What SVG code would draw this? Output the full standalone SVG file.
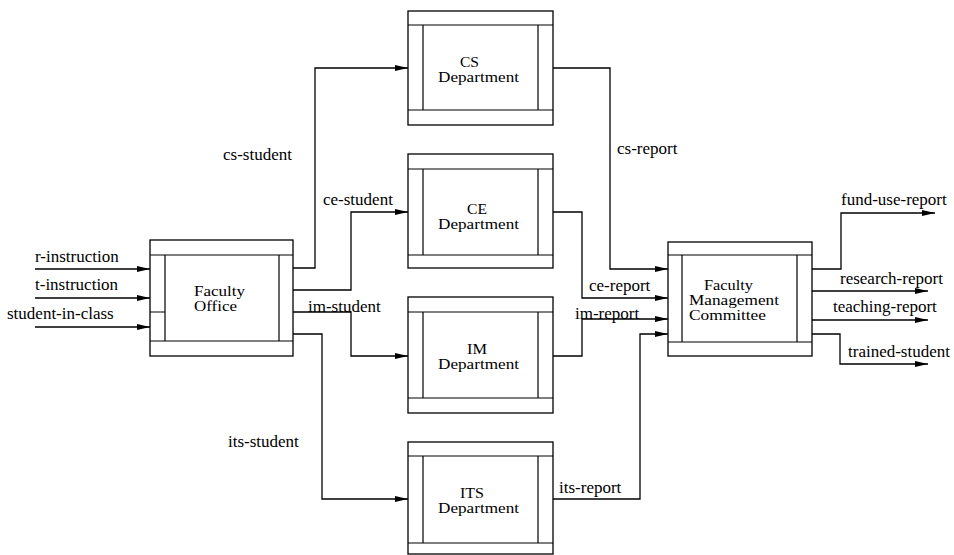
<svg xmlns="http://www.w3.org/2000/svg" width="954" height="555" viewBox="0 0 954 555">
<defs>
<marker id="ah" markerUnits="userSpaceOnUse" markerWidth="14" markerHeight="8" refX="13" refY="3" orient="auto">
<path d="M0,0 L13,3 L0,6 Z" fill="#000"/>
</marker>
<style>
.box{fill:#fff;stroke:#000;stroke-width:1.3}
.ln{fill:none;stroke:#000;stroke-width:1.2}
.c{fill:none;stroke:#000;stroke-width:1.3;marker-end:url(#ah)}
text{font-family:'Liberation Serif','Times New Roman',serif;font-size:17px;fill:#000}
.n{font-size:15px}
</style>
</defs>
<rect width="954" height="555" fill="#fff"/>

<g id="faculty-office">
<rect class="box" x="150" y="240" width="143" height="116"/>
<path class="ln" d="M150,255H293M150,341H293M165,255V341M279,255V341M150,312H165"/>
<text class="n" x="194" y="296" textLength="51" lengthAdjust="spacingAndGlyphs">Faculty</text>
<text class="n" x="194" y="311" textLength="43" lengthAdjust="spacingAndGlyphs">Office</text>
</g>

<g id="cs-department">
<rect class="box" x="408" y="11" width="145" height="114"/>
<path class="ln" d="M408,25H553M408,110H553M423,25V110M538,25V110"/>
<text class="n" x="460" y="67" textLength="19" lengthAdjust="spacingAndGlyphs">CS</text>
<text class="n" x="438" y="82" textLength="81" lengthAdjust="spacingAndGlyphs">Department</text>
</g>

<g id="ce-department">
<rect class="box" x="408" y="154" width="145" height="114"/>
<path class="ln" d="M408,169H553M408,255H553M423,169V255M538,169V255"/>
<text class="n" x="467" y="214" textLength="20" lengthAdjust="spacingAndGlyphs">CE</text>
<text class="n" x="438" y="229" textLength="81" lengthAdjust="spacingAndGlyphs">Department</text>
</g>

<g id="im-department">
<rect class="box" x="408" y="297" width="145" height="116"/>
<path class="ln" d="M408,312H553M408,398H553M423,312V398M538,312V398"/>
<text class="n" x="467" y="354" textLength="20" lengthAdjust="spacingAndGlyphs">IM</text>
<text class="n" x="438" y="369" textLength="81" lengthAdjust="spacingAndGlyphs">Department</text>
</g>

<g id="its-department">
<rect class="box" x="408" y="442" width="145" height="112"/>
<path class="ln" d="M408,456H553M408,543H553M423,456V543M538,456V543"/>
<text class="n" x="460" y="498" textLength="24" lengthAdjust="spacingAndGlyphs">ITS</text>
<text class="n" x="438" y="513" textLength="81" lengthAdjust="spacingAndGlyphs">Department</text>
</g>

<g id="faculty-management-committee">
<rect class="box" x="668" y="242" width="144" height="114"/>
<path class="ln" d="M668,255H812M668,342H812M682,255V342M797,255V342"/>
<text class="n" x="704" y="290" textLength="49" lengthAdjust="spacingAndGlyphs">Faculty</text>
<text class="n" x="689" y="305" textLength="90" lengthAdjust="spacingAndGlyphs">Management</text>
<text class="n" x="689" y="320" textLength="77" lengthAdjust="spacingAndGlyphs">Committee</text>
</g>

<g id="connectors">
<path class="c" d="M35,269H150"/>
<path class="c" d="M35,298H150"/>
<path class="c" d="M35,327H150"/>
<path class="c" d="M293,268H315V68H408"/>
<path class="c" d="M293,290H351V212H408"/>
<path class="c" d="M293,312H351V356H408"/>
<path class="c" d="M293,334H322V499H408"/>
<path class="c" d="M553,68H610V269H668"/>
<path class="c" d="M553,212H582V298H668"/>
<path class="c" d="M553,356H582V319H668"/>
<path class="c" d="M553,499H640V334H668"/>
<path class="c" d="M812,269H841V213H935"/>
<path class="c" d="M812,291H928"/>
<path class="c" d="M812,320H928"/>
<path class="c" d="M812,334H840V364H928"/>
<text x="35" y="262">r-instruction</text>
<text x="35" y="290">t-instruction</text>
<text x="7" y="319">student-in-class</text>
<text x="223" y="160">cs-student</text>
<text x="323" y="205">ce-student</text>
<text x="308" y="312">im-student</text>
<text x="228" y="447">its-student</text>
<text x="617" y="154">cs-report</text>
<text x="589" y="291">ce-report</text>
<text x="575" y="319">im-report</text>
<text x="559" y="493">its-report</text>
<text x="841" y="205">fund-use-report</text>
<text x="840" y="284">research-report</text>
<text x="833" y="312">teaching-report</text>
<text x="848" y="357">trained-student</text>
</g>
</svg>
